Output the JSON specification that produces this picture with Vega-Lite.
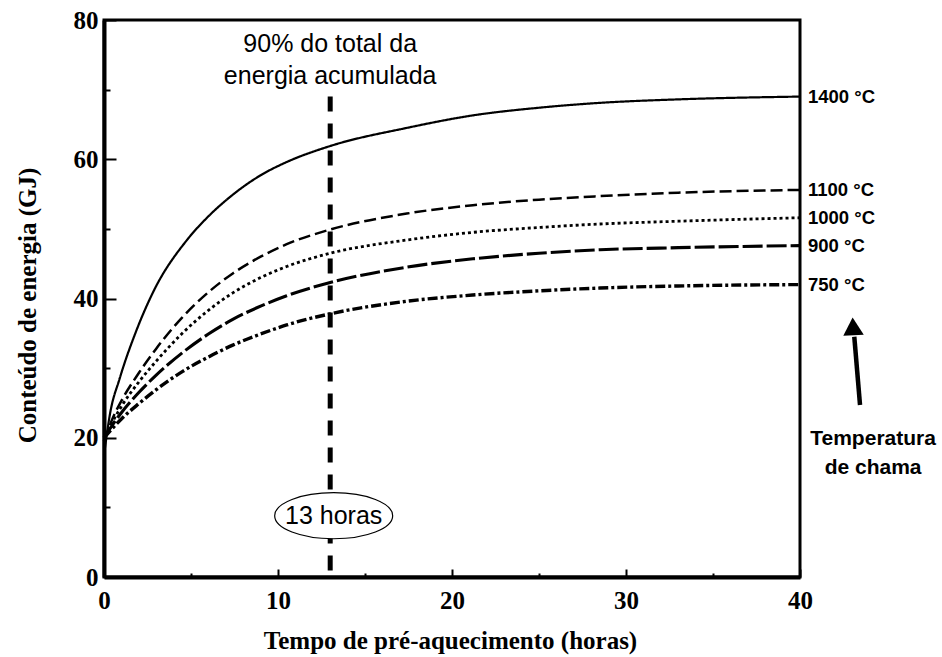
{
  "$schema": "https://vega.github.io/schema/vega-lite/v6.json",
  "width": 696,
  "height": 557,
  "autosize": {"type": "none"},
  "padding": {"left": 104, "top": 20, "right": 142, "bottom": 80},
  "background": "white",
  "config": {
    "view": {"stroke": "black", "strokeWidth": 3},
    "axis": {
      "grid": false,
      "domainColor": "black",
      "domainWidth": 4,
      "tickColor": "black",
      "tickWidth": 2,
      "labelColor": "black",
      "labelFont": "Liberation Serif",
      "labelFontWeight": "bold",
      "labelFontSize": 25,
      "labelFlush": false,
      "labelOverlap": false,
      "titleColor": "black",
      "titleFont": "Liberation Serif",
      "titleFontWeight": "bold",
      "titleFontSize": 25
    }
  },
  "datasets": {
    "curves": [
      {"temp": "1400", "t": 0, "e": 17.5},
      {"temp": "1400", "t": 0.35, "e": 23.5},
      {"temp": "1400", "t": 0.9, "e": 28.5},
      {"temp": "1400", "t": 1.8, "e": 35},
      {"temp": "1400", "t": 2.8, "e": 40.8},
      {"temp": "1400", "t": 4.8, "e": 48.5},
      {"temp": "1400", "t": 6, "e": 51.8},
      {"temp": "1400", "t": 7.4, "e": 54.9},
      {"temp": "1400", "t": 9, "e": 57.7},
      {"temp": "1400", "t": 10.5, "e": 59.6},
      {"temp": "1400", "t": 13, "e": 61.9},
      {"temp": "1400", "t": 17.4, "e": 64.5},
      {"temp": "1400", "t": 21.2, "e": 66.3},
      {"temp": "1400", "t": 25, "e": 67.4},
      {"temp": "1400", "t": 28.5, "e": 68.1},
      {"temp": "1400", "t": 33, "e": 68.6},
      {"temp": "1400", "t": 40, "e": 69},
      {"temp": "1100", "t": 0, "e": 19.5},
      {"temp": "1100", "t": 0.5, "e": 22.8},
      {"temp": "1100", "t": 1, "e": 25.3},
      {"temp": "1100", "t": 2, "e": 29.3},
      {"temp": "1100", "t": 3, "e": 32.8},
      {"temp": "1100", "t": 4.5, "e": 37.3},
      {"temp": "1100", "t": 6, "e": 40.9},
      {"temp": "1100", "t": 7.4, "e": 43.6},
      {"temp": "1100", "t": 9, "e": 46},
      {"temp": "1100", "t": 10.5, "e": 47.8},
      {"temp": "1100", "t": 13, "e": 49.9},
      {"temp": "1100", "t": 17.4, "e": 52.2},
      {"temp": "1100", "t": 21.2, "e": 53.4},
      {"temp": "1100", "t": 25, "e": 54.2},
      {"temp": "1100", "t": 28.5, "e": 54.7},
      {"temp": "1100", "t": 33, "e": 55.2},
      {"temp": "1100", "t": 40, "e": 55.6},
      {"temp": "1000", "t": 0, "e": 19.5},
      {"temp": "1000", "t": 0.5, "e": 22.3},
      {"temp": "1000", "t": 1, "e": 24.5},
      {"temp": "1000", "t": 2, "e": 28},
      {"temp": "1000", "t": 3, "e": 31},
      {"temp": "1000", "t": 4.5, "e": 35},
      {"temp": "1000", "t": 6, "e": 38.3},
      {"temp": "1000", "t": 7.4, "e": 40.8},
      {"temp": "1000", "t": 9, "e": 43},
      {"temp": "1000", "t": 10.5, "e": 44.6},
      {"temp": "1000", "t": 13, "e": 46.5},
      {"temp": "1000", "t": 17.4, "e": 48.4},
      {"temp": "1000", "t": 21.2, "e": 49.5},
      {"temp": "1000", "t": 25, "e": 50.2},
      {"temp": "1000", "t": 28.5, "e": 50.7},
      {"temp": "1000", "t": 33, "e": 51.1},
      {"temp": "1000", "t": 40, "e": 51.6},
      {"temp": "900", "t": 0, "e": 20},
      {"temp": "900", "t": 0.5, "e": 21.9},
      {"temp": "900", "t": 1, "e": 23.6},
      {"temp": "900", "t": 2, "e": 26.5},
      {"temp": "900", "t": 3, "e": 29},
      {"temp": "900", "t": 4.5, "e": 32.2},
      {"temp": "900", "t": 6, "e": 34.9},
      {"temp": "900", "t": 7.4, "e": 37},
      {"temp": "900", "t": 9, "e": 38.9},
      {"temp": "900", "t": 10.5, "e": 40.4},
      {"temp": "900", "t": 13, "e": 42.3},
      {"temp": "900", "t": 17.4, "e": 44.5},
      {"temp": "900", "t": 21.2, "e": 45.7},
      {"temp": "900", "t": 25, "e": 46.5},
      {"temp": "900", "t": 28.5, "e": 47},
      {"temp": "900", "t": 33, "e": 47.3},
      {"temp": "900", "t": 40, "e": 47.6},
      {"temp": "750", "t": 0, "e": 20},
      {"temp": "750", "t": 0.5, "e": 21.4},
      {"temp": "750", "t": 1, "e": 22.7},
      {"temp": "750", "t": 2, "e": 24.9},
      {"temp": "750", "t": 3, "e": 26.9},
      {"temp": "750", "t": 4.5, "e": 29.5},
      {"temp": "750", "t": 6, "e": 31.6},
      {"temp": "750", "t": 7.4, "e": 33.3},
      {"temp": "750", "t": 9, "e": 34.9},
      {"temp": "750", "t": 10.5, "e": 36.2},
      {"temp": "750", "t": 13, "e": 37.8},
      {"temp": "750", "t": 17.4, "e": 39.6},
      {"temp": "750", "t": 21.2, "e": 40.5},
      {"temp": "750", "t": 25, "e": 41.1},
      {"temp": "750", "t": 28.5, "e": 41.5},
      {"temp": "750", "t": 33, "e": 41.8},
      {"temp": "750", "t": 40, "e": 42}
    ]
  },
  "layer": [
    {
      "data": {"name": "curves"},
      "mark": {"type": "line", "color": "black", "interpolate": "monotone", "strokeCap": "butt"},
      "encoding": {
        "x": {
          "field": "t",
          "type": "quantitative",
          "scale": {"domain": [0, 40], "nice": false},
          "axis": {
            "values": [0, 5, 10, 15, 20, 25, 30, 35, 40],
            "labelExpr": "datum.value % 10 === 0 ? datum.label : ''",
            "tickSize": {"condition": {"test": "datum.value % 10 === 0", "value": -8}, "value": -4},
            "labelPadding": 19,
            "title": "Tempo de pré-aquecimento  (horas)",
            "titleX": 346,
            "titleY": 63,
            "titleBaseline": "middle",
            "titleAlign": "center"
          }
        },
        "y": {
          "field": "e",
          "type": "quantitative",
          "scale": {"domain": [0, 80], "nice": false},
          "axis": {
            "values": [0, 10, 20, 30, 40, 50, 60, 70, 80],
            "labelExpr": "datum.value % 20 === 0 ? datum.label : ''",
            "tickSize": {"condition": {"test": "datum.value % 20 === 0", "value": -12}, "value": -6},
            "labelPadding": 18,
            "title": "Conteúdo de energia (GJ)",
            "titleX": -77,
            "titleY": 285,
            "titleBaseline": "middle",
            "titleAlign": "center"
          }
        },
        "detail": {"field": "temp"},
        "strokeDash": {
          "field": "temp",
          "type": "nominal",
          "scale": {
            "domain": ["1400", "1100", "1000", "900", "750"],
            "range": [[1, 0], [12, 5], [3, 3], [20, 4], [10, 3, 3, 3]]
          },
          "legend": null
        },
        "strokeWidth": {
          "field": "temp",
          "type": "nominal",
          "scale": {"domain": ["1400", "1100", "1000", "900", "750"], "range": [2.2, 3.4, 3.4, 3.4, 3.4]},
          "legend": null
        }
      }
    },
    {
      "data": {"values": [{}]},
      "mark": {"type": "rule", "color": "black", "strokeWidth": 5, "strokeDash": [15, 12]},
      "encoding": {
        "x": {"datum": 13},
        "y": {"datum": 69},
        "y2": {"datum": 0}
      }
    },
    {
      "data": {"values": [{}]},
      "mark": {
        "type": "point",
        "shape": "M-1,0A1,0.39,0,1,1,1,0A1,0.39,0,1,1,-1,0Z",
        "filled": true,
        "fill": "white",
        "stroke": "black",
        "strokeWidth": 1.2,
        "opacity": 1,
        "size": 13924
      },
      "encoding": {
        "x": {"datum": 13.2},
        "y": {"datum": 8.8}
      }
    },
    {
      "data": {"values": [{"label": "13 horas"}]},
      "mark": {"type": "text", "font": "Liberation Sans", "fontSize": 25, "color": "black", "align": "center", "baseline": "middle"},
      "encoding": {
        "x": {"datum": 13.2},
        "y": {"datum": 8.8},
        "text": {"field": "label"}
      }
    },
    {
      "data": {"values": [{"label": "90% do total da\nenergia acumulada"}]},
      "mark": {"type": "text", "font": "Liberation Sans", "fontSize": 25, "color": "black", "align": "center", "baseline": "middle", "lineBreak": "\n", "lineHeight": 32},
      "encoding": {
        "x": {"datum": 13},
        "y": {"datum": 76.5},
        "text": {"field": "label"}
      }
    },
    {
      "data": {"name": "curves"},
      "transform": [{"filter": "datum.t === 40"}, {"calculate": "datum.temp + ' °C'", "as": "label"}],
      "mark": {"type": "text", "font": "Liberation Sans", "fontWeight": "bold", "fontSize": 18.5, "color": "black", "align": "left", "baseline": "middle", "dx": 8},
      "encoding": {
        "x": {"field": "t", "type": "quantitative"},
        "y": {"field": "e", "type": "quantitative"},
        "text": {"field": "label"}
      }
    },
    {
      "data": {"values": [{}]},
      "mark": {"type": "rule", "color": "black", "strokeWidth": 4.5},
      "encoding": {
        "x": {"datum": 43.45},
        "y": {"datum": 24.7},
        "x2": {"datum": 43.12},
        "y2": {"datum": 34.5}
      }
    },
    {
      "data": {"values": [{}]},
      "mark": {"type": "point", "shape": "triangle-up", "filled": true, "color": "black", "opacity": 1, "size": 420, "angle": -3},
      "encoding": {
        "x": {"datum": 43.05},
        "y": {"datum": 36}
      }
    },
    {
      "data": {"values": [{"label": "Temperatura\nde chama"}]},
      "mark": {"type": "text", "font": "Liberation Sans", "fontWeight": "bold", "fontSize": 21, "color": "black", "align": "center", "baseline": "middle", "lineBreak": "\n", "lineHeight": 29},
      "encoding": {
        "x": {"datum": 44.2},
        "y": {"datum": 19.8},
        "text": {"field": "label"}
      }
    }
  ]
}
